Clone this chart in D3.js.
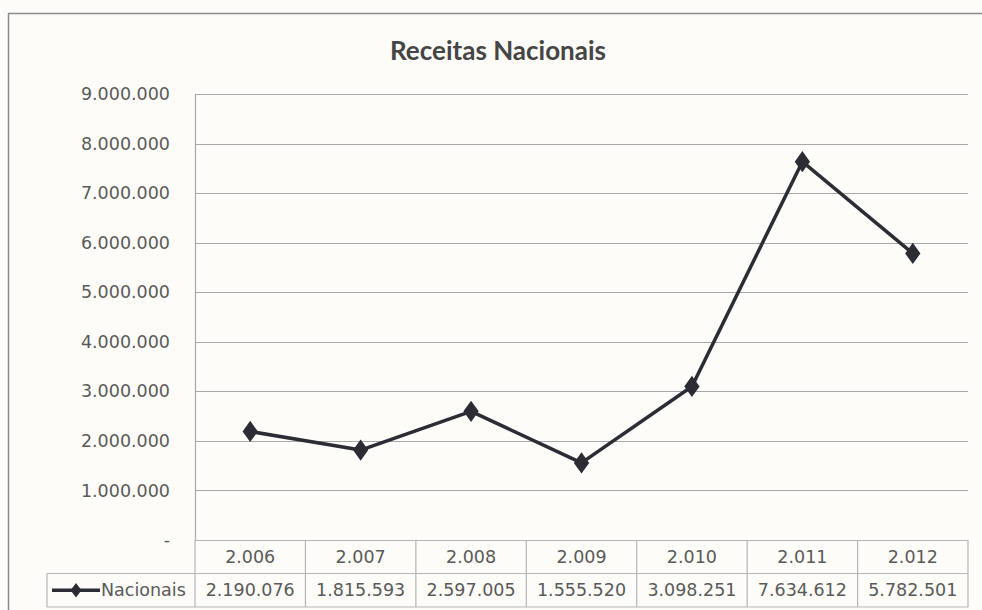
<!DOCTYPE html>
<html>
<head>
<meta charset="utf-8">
<script src="https://cdn.jsdelivr.net/npm/d3@7"></script>
<style>
  body { margin: 0; background: #fdfcf8; }
  svg { display: block; }
</style>
</head>
<body>
<svg id="chart"></svg>
<script>
const years = [2006, 2007, 2008, 2009, 2010, 2011, 2012];
const nacionais = [2190076, 1815593, 2597005, 1555520, 3098251, 7634612, 5782501];
const yTicks = [0, 1000000, 2000000, 3000000, 4000000, 5000000, 6000000, 7000000, 8000000, 9000000];
const seriesName = 'Nacionais';
const title = 'Receitas Nacionais';

const width = 982, height = 610;
const plotLeft = 195, plotRight = 968, plotTop = 94, plotBottom = 540;
const rowH = 33.5;

const br = d3.formatLocale({ decimal: ',', thousands: '.', grouping: [3], currency: ['R$', ''] });
const fmt = br.format(',');

const svg = d3.select('#chart').attr('width', width).attr('height', height);

// outer frame
svg.append('rect')
  .attr('x', 8.5).attr('y', 13.5)
  .attr('width', 990).attr('height', 620)
  .attr('fill', '#fdfcf8')
  .attr('stroke', '#8a8a8a').attr('stroke-width', 1.5);

svg.append('text')
  .attr('x', 498).attr('y', 60)
  .attr('text-anchor', 'middle')
  .style('font-family', 'Lato, sans-serif')
  .style('font-weight', 'bold')
  .style('font-size', '26px')
  .style('fill', '#454545')
  .text(title);

const x = d3.scaleBand().domain(years).range([plotLeft, plotRight]);
const y = d3.scaleLinear().domain([0, 9000000]).range([plotBottom, plotTop]);

// gridlines
svg.append('g')
  .selectAll('line')
  .data(yTicks.filter(d => d > 0))
  .enter()
  .append('line')
  .attr('x1', plotLeft).attr('x2', plotRight)
  .attr('y1', d => Math.round(y(d)) + 0.5).attr('y2', d => Math.round(y(d)) + 0.5)
  .attr('stroke', '#a8a8a8').attr('stroke-width', 1.2);

// y axis
const yAxis = svg.append('g')
  .attr('transform', `translate(${plotLeft},0)`)
  .call(d3.axisLeft(y).tickValues(yTicks).tickSize(0).tickPadding(25)
    .tickFormat(d => d === 0 ? '-' : fmt(d)));
yAxis.select('.domain').attr('stroke', '#a8a8a8').attr('stroke-width', 1.2);
yAxis.selectAll('text')
  .style('font-family', 'DejaVu Sans, sans-serif')
  .style('font-size', '17.5px')
  .style('fill', '#5a5a5a');

// data table
const table = svg.append('g')
  .style('font-family', 'DejaVu Sans, sans-serif')
  .style('font-size', '17.5px')
  .style('fill', '#5a5a5a');

const gridStroke = '#b5b5b5';
// horizontal lines
table.append('line').attr('x1', plotLeft).attr('x2', plotRight).attr('y1', plotBottom + 0.5).attr('y2', plotBottom + 0.5)
  .attr('stroke', gridStroke).attr('stroke-width', 1.2);
table.append('line').attr('x1', 47).attr('x2', plotRight).attr('y1', plotBottom + rowH).attr('y2', plotBottom + rowH)
  .attr('stroke', gridStroke).attr('stroke-width', 1.2);
table.append('line').attr('x1', 47).attr('x2', plotRight).attr('y1', plotBottom + 2 * rowH).attr('y2', plotBottom + 2 * rowH)
  .attr('stroke', gridStroke).attr('stroke-width', 1.2);
// vertical lines
table.selectAll('.vline')
  .data(years)
  .enter()
  .append('line')
  .attr('class', 'vline')
  .attr('x1', d => x(d) + x.bandwidth()).attr('x2', d => x(d) + x.bandwidth())
  .attr('y1', plotBottom).attr('y2', plotBottom + 2 * rowH)
  .attr('stroke', gridStroke).attr('stroke-width', 1.2);
table.append('line').attr('x1', 47).attr('x2', 47).attr('y1', plotBottom + rowH).attr('y2', plotBottom + 2 * rowH)
  .attr('stroke', gridStroke).attr('stroke-width', 1.2);
table.append('line').attr('x1', plotLeft).attr('x2', plotLeft).attr('y1', plotBottom).attr('y2', plotBottom + 2 * rowH)
  .attr('stroke', gridStroke).attr('stroke-width', 1.2);

table.selectAll('.yr')
  .data(years)
  .enter()
  .append('text')
  .attr('class', 'yr')
  .attr('x', d => x(d) + x.bandwidth() / 2)
  .attr('y', plotBottom + rowH / 2 + 6)
  .attr('text-anchor', 'middle')
  .text(d => fmt(d));

table.selectAll('.val')
  .data(nacionais)
  .enter()
  .append('text')
  .attr('class', 'val')
  .attr('x', (d, i) => x(years[i]) + x.bandwidth() / 2)
  .attr('y', plotBottom + rowH * 1.5 + 6)
  .attr('text-anchor', 'middle')
  .text(d => fmt(d));

// legend key in table
const lineColor = '#2c2c34';
const diamond = d3.symbol().type(d3.symbolDiamond);
table.append('line')
  .attr('x1', 52).attr('x2', 100)
  .attr('y1', plotBottom + rowH * 1.5).attr('y2', plotBottom + rowH * 1.5)
  .attr('stroke', lineColor).attr('stroke-width', 3.5);
table.append('path')
  .attr('d', diamond.size(60)())
  .attr('transform', `translate(76,${plotBottom + rowH * 1.5}) scale(1.3,1)`)
  .attr('fill', lineColor);
table.append('text')
  .attr('x', 101).attr('y', plotBottom + rowH * 1.5 + 6)
  .text(seriesName);

// series line
const line = d3.line()
  .x((d, i) => x(years[i]) + x.bandwidth() / 2)
  .y(d => y(d));

svg.append('path')
  .datum(nacionais)
  .attr('d', line)
  .attr('fill', 'none')
  .attr('stroke', lineColor)
  .attr('stroke-width', 3.5)
  .attr('stroke-linejoin', 'round');

svg.selectAll('.marker')
  .data(nacionais)
  .enter()
  .append('path')
  .attr('class', 'marker')
  .attr('d', diamond.size(130)())
  .attr('transform', (d, i) => `translate(${x(years[i]) + x.bandwidth() / 2},${y(d)}) scale(1.25,1)`)
  .attr('fill', lineColor);
</script>
</body>
</html>
